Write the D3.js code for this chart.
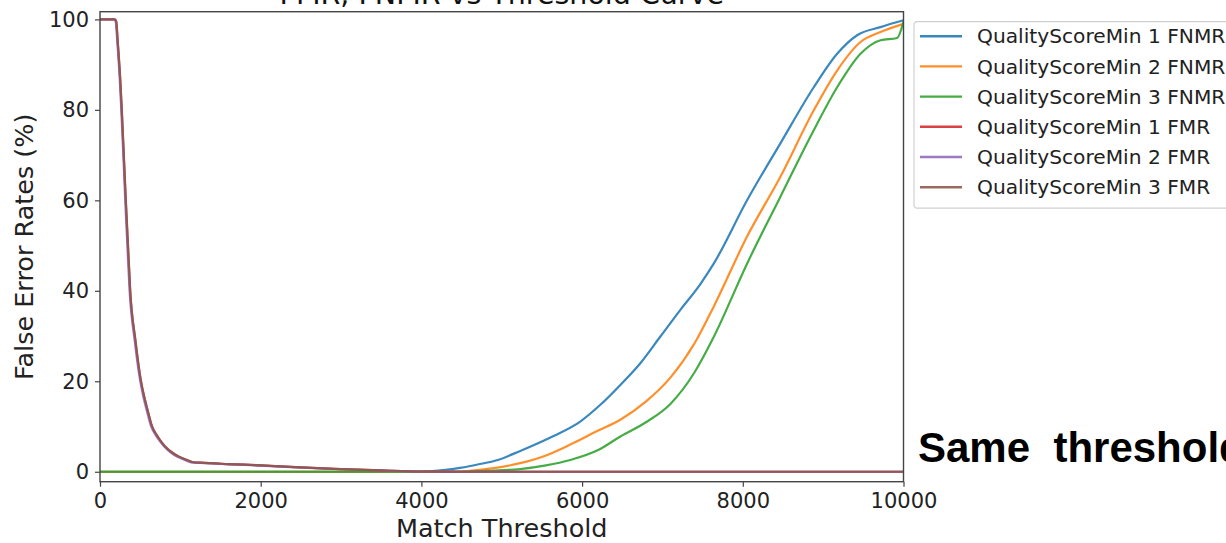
<!DOCTYPE html>
<html>
<head>
<meta charset="utf-8">
<script src="https://cdn.jsdelivr.net/npm/d3@7"></script>
<style>
  body { margin: 0; background: #fff; }
  svg { display: block; font-family: "DejaVu Sans", sans-serif; }
</style>
</head>
<body>
<div id="chart"></div>
<script>
// values: [threshold, rate %]
const fnmr1 = [[0, 0], [4000, 0], [4100, 0.1], [4300, 0.4], [4500, 0.9], [4700, 1.6], [4950, 2.6], [5230, 4.6], [5645, 7.9], [5977, 11.1], [6227, 14.8], [6476, 19.2], [6725, 24], [6974, 29.9], [7223, 35.8], [7472, 41.5], [7638, 46], [8053, 60], [8468, 72.6], [8883, 85], [9174, 92.4], [9423, 96.5], [9714, 98.3], [10000, 99.8]];
const fnmr2 = [[0, 0], [4400, 0], [4600, 0.2], [4900, 0.8], [5230, 1.9], [5550, 3.6], [5853, 6], [6200, 9.1], [6476, 11.5], [6800, 15.6], [7099, 20.8], [7400, 28.4], [7638, 36.5], [8053, 52], [8468, 65.2], [8883, 79.9], [9174, 88.7], [9465, 95], [9714, 97.2], [10000, 99]];
const fnmr3 = [[0, 0], [4500, 0], [4800, 0.2], [5230, 0.6], [5550, 1.4], [5853, 2.6], [6200, 4.8], [6476, 7.8], [6800, 11], [7099, 15], [7400, 22], [7630, 29.5], [8053, 46], [8468, 60.8], [8883, 75.5], [9174, 85], [9465, 92.4], [9714, 95.4], [9921, 95.9], [10000, 99.5]];
const fmr1 = [[0, 100], [180, 100], [200, 99.6], [220, 95], [250, 87], [270, 80], [300, 68], [320, 60], [350, 49], [375, 40], [440, 29], [506, 20.3], [550, 16.5], [600, 13], [643, 10.2], [700, 8.2], [750, 6.9], [809, 5.6], [900, 4.2], [975, 3.4], [1080, 2.6], [1160, 2.1], [1250, 2.0], [1600, 1.7], [2000, 1.4], [2500, 0.95], [3000, 0.6], [3500, 0.3], [4000, 0.05], [4500, 0], [10000, 0]];
const fmr2 = [[0, 100], [175, 100], [195, 99.5], [215, 95], [245, 87], [265, 80], [295, 68], [314, 60], [343, 49], [368, 40], [432, 29], [498, 20.3], [540, 16.5], [590, 13], [633, 10.2], [690, 8.2], [740, 6.9], [800, 5.6], [890, 4.1], [965, 3.3], [1070, 2.5], [1160, 2.0], [1250, 1.95], [1600, 1.65], [2000, 1.35], [2500, 0.9], [3000, 0.55], [3500, 0.28], [4000, 0.05], [4500, 0], [10000, 0]];
const fmr3 = [[0, 100], [182, 100], [202, 99.6], [222, 95], [252, 87], [272, 80], [302, 68], [322, 60], [352, 49], [377, 40], [442, 29], [508, 20.3], [552, 16.5], [602, 13], [645, 10.2], [702, 8.2], [752, 6.9], [811, 5.6], [902, 4.2], [977, 3.4], [1082, 2.6], [1165, 2.1], [1250, 2.0], [1600, 1.7], [2000, 1.4], [2500, 0.95], [3000, 0.6], [3500, 0.3], [4000, 0.05], [4500, 0], [10000, 0]];

const seriesNames = ["QualityScoreMin 1 FNMR", "QualityScoreMin 2 FNMR", "QualityScoreMin 3 FNMR", "QualityScoreMin 1 FMR", "QualityScoreMin 2 FMR", "QualityScoreMin 3 FMR"];
const seriesValues = [fnmr1, fnmr2, fnmr3, fmr1, fmr2, fmr3];
const colours = ["#1f77b4", "#ff7f0e", "#2ca02c", "#d62728", "#9467bd", "#8c564b"];

const xTicks = [0, 2000, 4000, 6000, 8000, 10000];
const yTicks = [0, 20, 40, 60, 80, 100];

const w = 1226;
const h = 543;
const plot = { left: 100, right: 903.5, top: 11.7, bottom: 481.7 };

const svg = d3.select("#chart").append("svg").attr("width", w).attr("height", h);

const xScale = d3.scaleLinear().domain([0, 10000]).range([plot.left, plot.right]);
const yScale = d3.scaleLinear().domain([-2.2, 101.7]).range([plot.bottom, plot.top]);

svg.append("defs").append("clipPath").attr("id", "plotClip")
  .append("rect")
  .attr("x", plot.left).attr("y", plot.top)
  .attr("width", plot.right - plot.left).attr("height", plot.bottom - plot.top);

// title, mostly cut off by the top edge
svg.append("text")
  .attr("x", (plot.left + plot.right) / 2)
  .attr("y", 4)
  .attr("text-anchor", "middle")
  .style("font-size", "28.5px")
  .style("fill", "#111")
  .text("FMR, FNMR vs Threshold Curve");

const line = d3.line()
  .curve(d3.curveMonotoneX)
  .x((d) => xScale(d[0]))
  .y((d) => yScale(d[1]));

svg.append("g")
  .attr("clip-path", "url(#plotClip)")
  .selectAll("path")
  .data(seriesValues)
  .enter()
  .append("path")
  .attr("d", line)
  .attr("fill", "none")
  .attr("stroke", (d, i) => colours[i])
  .attr("stroke-width", 2.2)
  .attr("stroke-linejoin", "round")
  .attr("opacity", 0.88);

// axes
const xAxis = svg.append("g")
  .attr("transform", `translate(0,${plot.bottom})`)
  .call(d3.axisBottom(xScale).tickValues(xTicks).tickSize(5).tickPadding(6).tickFormat(d3.format("d")));

const yAxis = svg.append("g")
  .attr("transform", `translate(${plot.left},0)`)
  .call(d3.axisLeft(yScale).tickValues(yTicks).tickSize(5).tickPadding(6));

[xAxis, yAxis].forEach((g) => {
  g.select(".domain").remove();
  g.selectAll(".tick line").attr("stroke", "#444").attr("stroke-width", 1.2);
  g.selectAll(".tick text")
    .style("font-family", "DejaVu Sans")
    .style("font-size", "21px")
    .style("fill", "#222");
});

// frame
svg.append("rect")
  .attr("x", plot.left).attr("y", plot.top)
  .attr("width", plot.right - plot.left).attr("height", plot.bottom - plot.top)
  .attr("fill", "none")
  .attr("stroke", "#444")
  .attr("stroke-width", 1.4);

svg.append("text")
  .attr("x", (plot.left + plot.right) / 2)
  .attr("y", 537)
  .attr("text-anchor", "middle")
  .style("font-size", "25.5px")
  .style("fill", "#222")
  .text("Match Threshold");

svg.append("text")
  .attr("transform", `translate(33,${(plot.top + plot.bottom) / 2}) rotate(-90)`)
  .attr("text-anchor", "middle")
  .style("font-size", "25.5px")
  .style("fill", "#222")
  .text("False Error Rates (%)");

// legend
const legend = svg.append("g").attr("transform", "translate(914,21.7)");

legend.append("rect")
  .attr("width", 340).attr("height", 186.5)
  .attr("rx", 3)
  .attr("fill", "#fff")
  .attr("stroke", "#d0d0d0")
  .attr("stroke-width", 1.2);

const entries = legend.selectAll("g.entry")
  .data(seriesNames)
  .enter()
  .append("g")
  .attr("class", "entry")
  .attr("transform", (d, i) => `translate(0,${14.5 + i * 30.2})`);

entries.append("line")
  .attr("x1", 6).attr("x2", 48)
  .attr("stroke", (d, i) => colours[i])
  .attr("stroke-width", 2.4)
  .attr("opacity", 0.88);

entries.append("text")
  .attr("x", 63)
  .attr("dy", "0.36em")
  .style("font-size", "20.2px")
  .style("fill", "#222")
  .text((d) => d);

// annotation on the right, cut by the edge
svg.append("text")
  .attr("x", 918)
  .attr("y", 462)
  .style("font-family", "Liberation Sans, Arial, sans-serif")
  .style("font-weight", "bold")
  .style("font-size", "42px")
  .style("white-space", "pre")
  .style("fill", "#000")
  .text("Same  threshold");
</script>
</body>
</html>
